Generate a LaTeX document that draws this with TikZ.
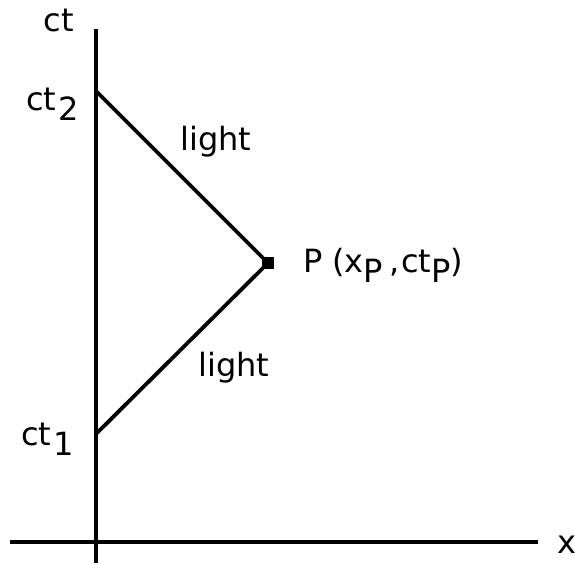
\documentclass[tikz,border=0pt]{standalone}
\usepackage{fontspec}
\setmainfont{DejaVu Sans}
\begin{document}
\begin{tikzpicture}[x=1pt,y=-1pt,
  axis/.style={line width=4.6pt},
  ray/.style={line width=3.8pt},
  lbl/.style={inner sep=0pt,font=\fontsize{32}{36}\selectfont}]
\useasboundingbox (0,0) rectangle (575,563);
\coordinate (ytop) at (96,29);
\coordinate (ybot) at (96,563);
\coordinate (xl) at (10,542);
\coordinate (xr) at (538,542);
\coordinate (t2) at (96,91);
\coordinate (t1) at (96,434);
\coordinate (P) at (268,263);
\draw[axis] (ytop) -- (ybot);
\draw[axis] (xl) -- (xr);
\draw[ray] (t2) -- (P);
\draw[ray] (t1) -- (P);
\fill (P) ++(-6,-6) rectangle ++(12,12);
\node[lbl] (lct) at (59,20) {ct};
\node[lbl,anchor=base west] (lct2) at (26,110) {ct\kern2pt\raisebox{-10pt}{2}};
\node[lbl,anchor=base west] (lct1) at (21,445) {ct\kern2pt\raisebox{-10pt}{1}};
\node[lbl] (lx) at (567,545) {x};
\node[lbl] (l1) at (216,142) {light};
\node[lbl] (l2) at (234,368) {light};
\node[lbl,anchor=base west] (lP) at (303,272) {P\kern10pt(x\raisebox{-10pt}{P}\kern6pt,\kern2pt ct\raisebox{-10pt}{P})};
\end{tikzpicture}
\end{document}
